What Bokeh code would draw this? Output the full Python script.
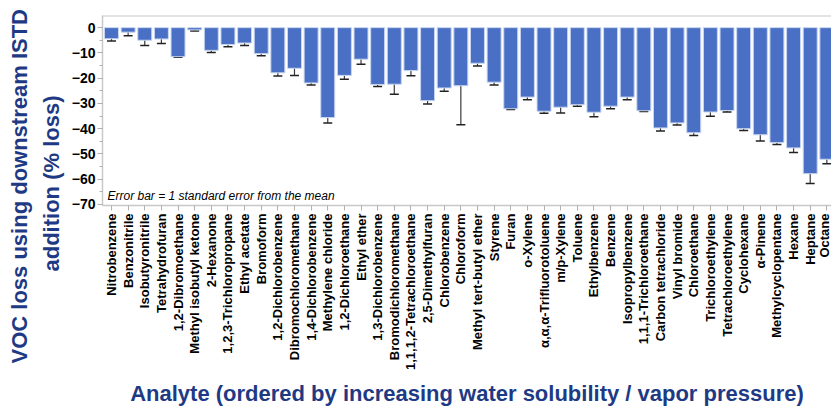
import math
from bokeh.plotting import figure
from bokeh.models import (Range1d, FixedTicker, SingleIntervalTicker, ColumnDataSource,
                          Whisker, TeeHead, Label, Span, Title)
from bokeh.embed import file_html
from bokeh.resources import INLINE

analytes = ["Nitrobenzene", "Benzonitrile", "Isobutyronitrile", "Tetrahydrofuran",
            "1,2-Dibromoethane", "Methyl isobutyl ketone", "2-Hexanone",
            "1,2,3-Trichloropropane", "Ethyl acetate", "Bromoform",
            "1,2-Dichlorobenzene", "Dibromochloromethane", "1,4-Dichlorobenzene",
            "Methylene chloride", "1,2-Dichloroethane", "Ethyl ether",
            "1,3-Dichlorobenzene", "Bromodichloromethane", "1,1,1,2-Tetrachloroethane",
            "2,5-Dimethylfuran", "Chlorobenzene", "Chloroform", "Methyl tert-butyl ether",
            "Styrene", "Furan", "o-Xylene", "α,α,α-Trifluorotoluene", "m/p-Xylene",
            "Toluene", "Ethylbenzene", "Benzene", "Isopropylbenzene",
            "1,1,1-Trichloroethane", "Carbon tetrachloride", "Vinyl bromide",
            "Chloroethane", "Trichloroethylene", "Tetrachloroethylene", "Cyclohexane",
            "α-Pinene", "Methylcyclopentane", "Hexane", "Heptane", "Octane"]

loss = [-4.4, -1.8, -5.0, -4.5, -11.5, -0.9, -9.0, -6.7, -6.1, -10.3,
        -17.9, -16.1, -21.9, -35.6, -18.9, -12.5, -22.5, -22.4, -17.0, -28.9,
        -23.9, -23.0, -14.1, -21.6, -32.1, -27.5, -33.1, -31.5, -30.5, -33.5,
        -31.1, -27.5, -32.9, -39.7, -37.7, -41.6, -33.4, -32.8, -40.0, -42.4,
        -45.5, -47.6, -57.8, -52.1]

std_err = [0.9, 1.4, 2.1, 1.8, 0.2, 0.4, 0.8, 0.9, 1.0, 0.85,
           1.2, 2.8, 0.85, 2.1, 1.5, 2.0, 0.85, 4.0, 2.0, 1.3,
           1.25, 15.4, 1.05, 1.1, 0.3, 1.0, 0.8, 2.25, 0.6, 1.8,
           1.0, 1.0, 0.3, 1.25, 0.85, 1.1, 1.65, 0.6, 0.7, 2.45,
           0.8, 1.85, 3.9, 1.75]

y_ticks_interval = 10

NAVY = "#1F3A84"
FONT = "Liberation Sans"

xs = list(range(1, len(analytes) + 1))
src = ColumnDataSource(dict(
    x=xs, top=loss,
    upper=[v + e for v, e in zip(loss, std_err)],
    lower=[v - e for v, e in zip(loss, std_err)],
))

p = figure(width=831, height=409, output_backend="svg", toolbar_location=None,
           x_range=Range1d(0.46, 44.28), y_range=Range1d(-70.4, 4.8),
           min_border_left=102, min_border_right=0, min_border_top=15,
           min_border_bottom=10)
p.outline_line_color = None
p.xgrid.visible = False
p.ygrid.visible = False
p.background_fill_color = "white"
p.border_fill_color = "white"

p.vbar(x="x", top="top", bottom=0, width=0.84, source=src,
       fill_color="#4A70C6", line_color="#C8D6F0", line_width=1)

w = Whisker(base="x", upper="upper", lower="lower", source=src,
            line_color="#3A3A3A", line_width=1.2,
            upper_head=TeeHead(size=9, line_color="#222222", line_width=1.5),
            lower_head=TeeHead(size=9, line_color="#222222", line_width=1.5))
p.add_layout(w)

# top border
p.add_layout(Span(location=p.y_range.end, dimension="width",
                  line_color="#C8C8C8", line_width=2))

# x axis
p.xaxis.ticker = FixedTicker(ticks=xs)
p.xaxis.major_label_overrides = {x: n for x, n in zip(xs, analytes)}
p.xaxis.major_label_orientation = math.pi / 2
p.xaxis.major_label_text_font = FONT
p.xaxis.major_label_text_font_size = "13px"
p.xaxis.major_label_text_font_style = "bold"
p.xaxis.major_label_text_color = "#000000"
p.xaxis.major_label_standoff = 3
p.xaxis.major_tick_out = 5
p.xaxis.major_tick_in = 0
p.xaxis.minor_tick_line_color = None
p.xaxis.axis_line_color = "#C8C8C8"
p.xaxis.axis_line_width = 1.5
p.xaxis.major_tick_line_color = "#B0B0B0"
p.xaxis.axis_label = "Analyte (ordered by increasing water solubility / vapor pressure)"
p.xaxis.axis_label_text_font = FONT
p.xaxis.axis_label_text_font_size = "22px"
p.xaxis.axis_label_text_font_style = "bold"
p.xaxis.axis_label_text_color = NAVY
p.xaxis.axis_label_standoff = 8

# y axis
p.yaxis.ticker = SingleIntervalTicker(interval=y_ticks_interval, num_minor_ticks=2)
p.yaxis.major_label_text_font = FONT
p.yaxis.major_label_text_font_size = "14px"
p.yaxis.major_label_text_font_style = "bold"
p.yaxis.major_label_text_color = "#000000"
p.yaxis.major_label_standoff = 2
p.yaxis.major_tick_out = 5
p.yaxis.major_tick_in = 0
p.yaxis.minor_tick_out = 3
p.yaxis.minor_tick_in = 0
p.yaxis.axis_line_color = "#C8C8C8"
p.yaxis.axis_line_width = 1.5
p.yaxis.major_tick_line_color = "#B0B0B0"
p.yaxis.minor_tick_line_color = "#B0B0B0"

# y title (two lines), as side titles anchored at the frame bottom and shifted
for txt, off, so in [("addition (% loss)", -66, 10), ("VOC loss using downstream ISTD", -158, 0)]:
    p.add_layout(Title(text=txt, align="left", offset=off, standoff=so,
                       text_font=FONT, text_font_size="22px", text_font_style="bold",
                       text_color=NAVY), "left")

p.add_layout(Label(x=5, y=10, x_units="screen", y_units="screen",
                   text="Error bar = 1 standard error from the mean",
                   text_baseline="middle", text_font=FONT, text_font_size="12px",
                   text_font_style="italic", text_color="#000000"))

open("out.html", "w").write(file_html(p, INLINE))
